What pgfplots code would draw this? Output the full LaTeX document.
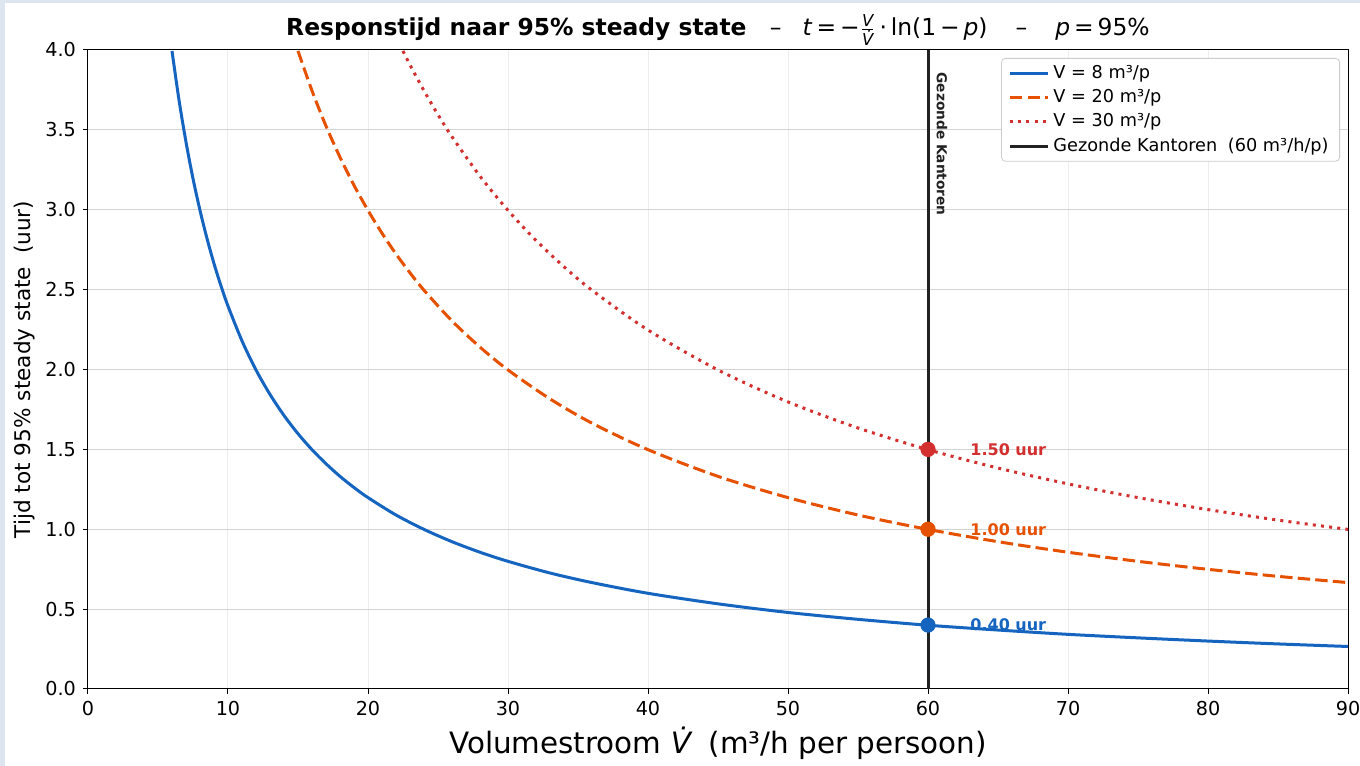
\documentclass[border=0pt]{standalone}
\usepackage{fontspec}
\setmainfont{DejaVu Sans}
\usepackage{amsmath}
\usepackage{pgfplots}
\pgfplotsset{compat=1.18}
\usetikzlibrary{backgrounds}

\definecolor{cblue}{HTML}{1565C0}
\definecolor{corange}{HTML}{E65100}
\definecolor{cred}{HTML}{D32F2F}
\definecolor{cdark}{HTML}{222222}
\definecolor{bgc}{HTML}{DDE6F0}

% t = -V/Vdot * ln(0.05)
\pgfplotstableread{
x t
6 3.994
6.5 3.687
7 3.424
7.5 3.195
8 2.996
8.5 2.820
9 2.663
9.5 2.523
10 2.397
11 2.179
12 1.997
13 1.844
14 1.712
15 1.598
16 1.498
17 1.410
18 1.331
19 1.261
20 1.198
22 1.089
24 0.999
26 0.922
28 0.856
30 0.799
33 0.726
36 0.666
40 0.599
45 0.533
50 0.479
55 0.436
60 0.399
65 0.369
70 0.342
75 0.320
80 0.300
85 0.282
90 0.266
}\vacht

\pgfplotstableread{
x t
15 3.994
16 3.745
17 3.524
18 3.329
19 3.153
20 2.996
21 2.853
22 2.723
23 2.605
24 2.496
26 2.304
28 2.140
30 1.997
33 1.816
36 1.664
40 1.498
45 1.331
50 1.198
55 1.089
60 0.999
65 0.922
70 0.856
75 0.799
80 0.749
85 0.705
90 0.666
}\vtwintig

\pgfplotstableread{
x t
22.5 3.994
23 3.907
24 3.745
25 3.595
26 3.457
28 3.210
30 2.996
32 2.808
34 2.643
36 2.496
40 2.247
45 1.997
50 1.797
55 1.634
60 1.498
65 1.383
70 1.284
75 1.198
80 1.123
85 1.057
90 0.999
}\vdertig

\begin{document}
\begin{tikzpicture}
\begin{axis}[
    name=ax,
    scale only axis,
    width=630pt,
    height=319.5pt,
    xmin=0, xmax=90,
    ymin=0, ymax=4,
    xtick={0,10,...,90},
    ytick={0,0.5,...,4},
    tick align=outside,
    major tick length=2.5pt,
    xtick pos=bottom,
    ytick pos=left,
    axis line style={black, line width=0.5pt},
    tick style={black, line width=0.5pt},
    grid=major,
    x grid style={black!7, line width=0.5pt},
    y grid style={black!17, line width=0.5pt},
    /pgf/number format/assume math mode=true,
    tick label style={font=\fontsize{9.6}{11}\selectfont},
    y tick label style={/pgf/number format/.cd, fixed, fixed zerofill, precision=1},
    xlabel={Volumestroom \textit{\.V}\hspace{0.6em}(m³/h per persoon)},
    xlabel style={at={(0.5,-0.0845)}, anchor=center, font=\fontsize{14.7}{17}\selectfont},
    ylabel={Tijd tot 95\% steady state\hspace{0.6em}(uur)},
    ylabel style={at={(-0.05,0.5)}, anchor=center, font=\fontsize{10.8}{13}\selectfont},
    title={\textbf{Responstijd naar 95\% steady state}\hspace{1em}–\hspace{0.9em}\textit{t}\,=\,−$\frac{\textit{V}}{\textit{\.V}}$\,·\,ln(1\,−\,\textit{p})\hspace{1.2em}–\hspace{1.2em}\textit{p}\,=\,95\%},
    title style={at={(0.5,1)}, anchor=center, yshift=4pt, font=\fontsize{11.7}{14}\selectfont},
    legend style={at={(1,1)}, anchor=north east, xshift=-4pt, yshift=-4pt,
        draw=black!20, rounded corners=2pt, fill=white,
        font=\fontsize{8.85}{10.5}\selectfont, cells={anchor=west},
        inner xsep=3.5pt, inner ysep=1.5pt},
    legend image code/.code={\draw[#1] (0pt,0pt) -- (19pt,0pt);},
    clip=true,
]
\addplot[cblue, line width=1.5pt, smooth] table[x=x, y=t] {\vacht};
\addlegendentry{V = 8 m³/p}
\addplot[corange, line width=1.5pt, smooth, dash pattern=on 6.2pt off 2.6pt] table[x=x, y=t] {\vtwintig};
\addlegendentry{V = 20 m³/p}
\addplot[cred, line width=1.5pt, smooth, dash pattern=on 1.5pt off 2.6pt] table[x=x, y=t] {\vdertig};
\addlegendentry{V = 30 m³/p}
\addplot[cdark, line width=1.5pt] coordinates {(60,0) (60,4)};
\addlegendentry{Gezonde Kantoren\hspace{0.6em}(60 m³/h/p)}

\addplot[forget plot, only marks, mark=*, mark size=3.6pt, cblue] coordinates {(60,0.40)};
\addplot[forget plot, only marks, mark=*, mark size=3.6pt, corange] coordinates {(60,1.00)};
\addplot[forget plot, only marks, mark=*, mark size=3.6pt, cred] coordinates {(60,1.50)};

\node[anchor=west, inner sep=0pt, text=cred, font=\bfseries\fontsize{8}{9}\selectfont] at (axis cs:63,1.50) {1.50 uur};
\node[anchor=west, inner sep=0pt, text=corange, font=\bfseries\fontsize{8}{9}\selectfont] at (axis cs:63,1.00) {1.00 uur};
\node[anchor=west, inner sep=0pt, text=cblue, font=\bfseries\fontsize{8}{9}\selectfont] at (axis cs:63,0.40) {0.40 uur};
\node[rotate=-90, anchor=west, inner sep=0pt, text=cdark, font=\bfseries\fontsize{6.85}{8}\selectfont] at (axis cs:61,3.86) {Gezonde Kantoren};
\end{axis}
\pgfresetboundingbox
\path[use as bounding box] ([xshift=-44pt,yshift=-38.5pt]ax.south west) rectangle ([xshift=6pt,yshift=25pt]ax.north east);
\begin{scope}[on background layer]
\fill[bgc] ([xshift=-44pt,yshift=-38.5pt]ax.south west) rectangle ([xshift=6pt,yshift=25pt]ax.north east);
\fill[white] ([xshift=-41.5pt,yshift=-38.5pt]ax.south west) rectangle ([xshift=6pt,yshift=23.5pt]ax.north east);
\end{scope}
\end{tikzpicture}
\end{document}
